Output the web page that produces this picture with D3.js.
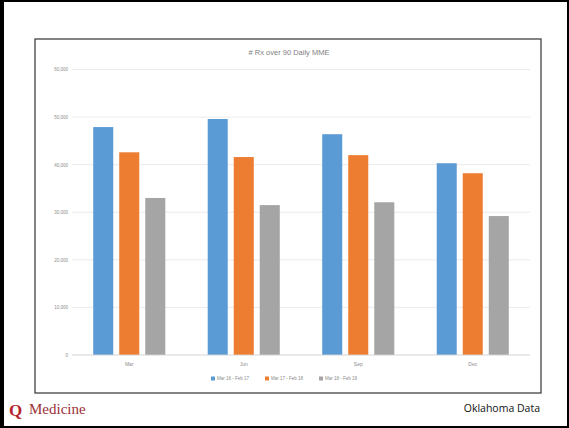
<!DOCTYPE html>
<html>
<head>
<meta charset="utf-8">
<script src="https://cdn.jsdelivr.net/npm/d3@7"></script>
<style>
  body { margin: 0; background: #fff; }
  svg { display: block; }
</style>
</head>
<body>
<div id="chart"></div>
<script>
// Donnees
const categories = ["Mar", "Jun", "Sep", "Dec"];
const series = ["Mar 16 - Feb 17", "Mar 17 - Feb 18", "Mar 18 - Feb 19"];
const valeurs16 = [47900, 49600, 46400, 40300];
const valeurs17 = [42600, 41600, 42000, 38200];
const valeurs18 = [33000, 31500, 32100, 29200];
const yTicks = [0, 10000, 20000, 30000, 40000, 50000, 60000];
const couleurs = ["#5B9BD5", "#ED7D31", "#A5A5A5"];

const W = 569, H = 428;
const svg = d3.select("#chart").append("svg").attr("width", W).attr("height", H);

// cadre de la diapo
svg.append("rect").attr("x", 1).attr("y", 1).attr("width", W - 2).attr("height", H - 2)
  .attr("fill", "#fff").attr("stroke", "#000").attr("stroke-width", 2);
svg.append("rect").attr("x", 0).attr("y", 0).attr("width", 4).attr("height", H).attr("fill", "#000");

// cadre du graphique
svg.append("rect").attr("x", 35).attr("y", 39).attr("width", 506).attr("height", 354)
  .attr("fill", "#fff").attr("stroke", "#333").attr("stroke-width", 1.2);

const x = d3.scaleBand().domain(categories).range([72, 530]);
const xs = d3.scaleBand().domain(series).range([0, x.bandwidth()]).paddingInner(0.23).paddingOuter(0.815);
const y = d3.scaleLinear().domain([0, 60000]).range([355, 69.5]);

// grille
svg.append("g").selectAll("line").data(yTicks).join("line")
  .attr("x1", 72).attr("x2", 530)
  .attr("y1", d => y(d)).attr("y2", d => y(d))
  .attr("stroke", "#e6e6e6").attr("stroke-width", 0.8);

// axe y
svg.append("g").attr("transform", "translate(68,0)")
  .call(d3.axisLeft(y).tickValues(yTicks).tickSize(0).tickPadding(0).tickFormat(d3.format(",")))
  .call(g => g.select(".domain").remove())
  .call(g => g.selectAll("text").attr("fill", "#8c8c8c").attr("font-size", 4.5).attr("font-family", "Liberation Sans"));

// barres
const tableau = categories.map((c, i) => ({ c, v: [valeurs16[i], valeurs17[i], valeurs18[i]] }));
const groupes = svg.append("g").selectAll("g").data(tableau).join("g")
  .attr("transform", d => `translate(${x(d.c)},0)`);
groupes.selectAll("rect").data(d => d.v.map((v, j) => ({ s: series[j], v, j }))).join("rect")
  .attr("x", d => xs(d.s)).attr("width", xs.bandwidth())
  .attr("y", d => y(d.v)).attr("height", d => y(0) - y(d.v))
  .attr("fill", d => couleurs[d.j]);

// axe x
svg.append("line").attr("x1", 72).attr("x2", 530).attr("y1", y(0)).attr("y2", y(0))
  .attr("stroke", "#d9d9d9").attr("stroke-width", 0.8);
svg.append("g").attr("transform", `translate(0,${y(0) + 4})`)
  .call(d3.axisBottom(x).tickSize(0).tickPadding(3))
  .call(g => g.select(".domain").remove())
  .call(g => g.selectAll("text").attr("fill", "#8c8c8c").attr("font-size", 5).attr("font-family", "Liberation Sans"));

// titre
svg.append("text").attr("x", 289).attr("y", 55).attr("text-anchor", "middle")
  .attr("font-family", "Liberation Sans").attr("font-size", 7.5).attr("fill", "#7f7f7f")
  .text("# Rx over 90 Daily MME");

// legende
const leg = svg.append("g").attr("transform", "translate(211,379)");
series.forEach((s, i) => {
  const g = leg.append("g").attr("transform", `translate(${i * 54},0)`);
  g.append("rect").attr("x", 0).attr("y", -2.5).attr("width", 4).attr("height", 4).attr("fill", couleurs[i]);
  g.append("text").attr("x", 6).attr("y", 1.2).attr("font-size", 4.5)
    .attr("font-family", "Liberation Sans").attr("fill", "#8c8c8c").text(s);
});

// bas de diapo
svg.append("text").attr("x", 9).attr("y", 416)
  .attr("font-family", "Liberation Serif").attr("font-weight", "bold").attr("font-size", 17)
  .attr("fill", "#b5252b").text("Q");
svg.append("text").attr("x", 29).attr("y", 414)
  .attr("font-family", "Liberation Serif").attr("font-size", 15)
  .attr("fill", "#9b3236").text("Medicine");
svg.append("text").attr("x", 540).attr("y", 412).attr("text-anchor", "end")
  .attr("font-family", "Open Sans").attr("font-size", 10.5).attr("fill", "#111")
  .text("Oklahoma Data");
</script>
</body>
</html>
